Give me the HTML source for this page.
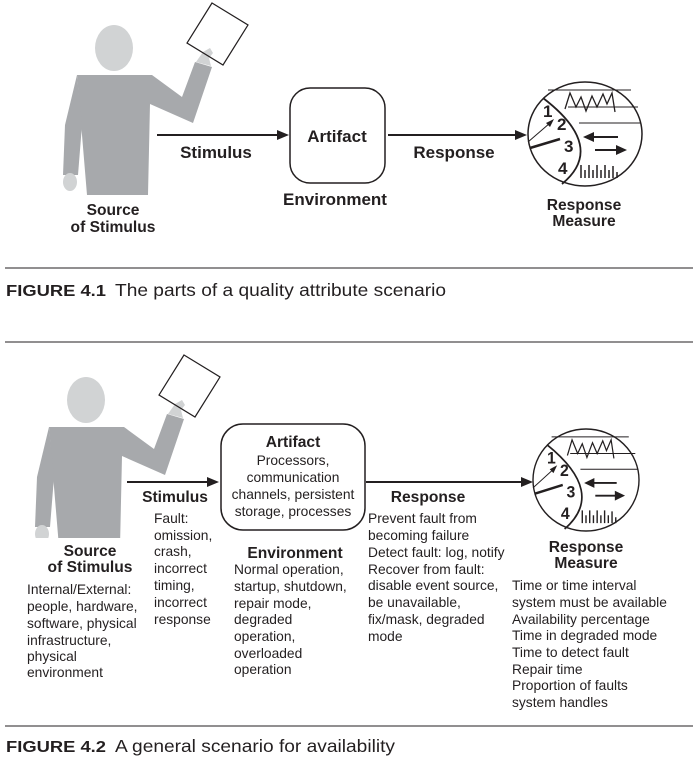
<!DOCTYPE html>
<html><head><meta charset="utf-8"><style>
html,body{margin:0;padding:0;background:#fff;}
svg{display:block;}
text{font-family:"Liberation Sans",Arial,sans-serif;fill:#231f20;}
.b{font-weight:bold;font-size:15.6px;}
.b1{font-weight:bold;font-size:17px;}
.t{font-size:13.8px;}
.c{text-anchor:middle;}
</style></head><body>
<svg width="699" height="762" viewBox="0 0 699 762" xmlns="http://www.w3.org/2000/svg">
<defs>
<g id="person">
  <polygon points="77,75 152,75 182,97 195,62 212,67 193,123 150,104 148,195 87,195" fill="#a7a9ac"/>
  <polygon points="77,75 65,125 63,175 78,175 82,125" fill="#a7a9ac"/>
  <ellipse cx="70" cy="182" rx="7" ry="9" fill="#d1d3d4"/>
  <ellipse cx="114" cy="48" rx="19" ry="23" fill="#d1d3d4"/>
  <path d="M196,62 L203,52 L210,48 L213,53 L209,58 L211,66 Z" fill="#d1d3d4"/>
  <polygon points="212,3 248,25 223,65 187,43" fill="none" stroke="#231f20" stroke-width="1.2"/>
</g>
<clipPath id="cp2"><rect x="0" y="0" width="400" height="186"/></clipPath>
<g id="meter">
  <ellipse cx="0" cy="0" rx="57" ry="52" fill="#fff" stroke="#231f20" stroke-width="1.5"/>
  <line x1="-37" y1="-44" x2="46" y2="-44" stroke="#231f20" stroke-width="1"/>
  <line x1="-17" y1="-27" x2="53" y2="-27" stroke="#231f20" stroke-width="1"/>
  <line x1="-6" y1="-11" x2="56" y2="-11" stroke="#231f20" stroke-width="1"/>
  <path d="M-42,-36 Q22,13 -23,50" fill="none" stroke="#231f20" stroke-width="1.8"/>
  <polyline points="-20,-25 -15,-41 -9,-27 -4,-37 1,-23 7,-38 12,-27 18,-40 22,-30 27,-41 30,-22" fill="none" stroke="#231f20" stroke-width="1.3"/>
  <text x="-42" y="-17" style="font-weight:bold;font-size:17px">1</text>
  <text x="-28" y="-4" style="font-weight:bold;font-size:17px">2</text>
  <text x="-21" y="18" style="font-weight:bold;font-size:17px">3</text>
  <text x="-27" y="40" style="font-weight:bold;font-size:17px">4</text>
  <line x1="-57" y1="8" x2="-35" y2="-11" stroke="#231f20" stroke-width="1"/>
  <polygon points="-31,-15 -39,-11 -35,-7" fill="#231f20"/>
  <line x1="-55" y1="14" x2="-25" y2="5" stroke="#231f20" stroke-width="2.5"/>
  <line x1="6" y1="3" x2="33" y2="3" stroke="#231f20" stroke-width="2"/>
  <polygon points="-2,3 9,-2 9,8" fill="#231f20"/>
  <line x1="10" y1="16" x2="35" y2="16" stroke="#231f20" stroke-width="2"/>
  <polygon points="42,16 31,11 31,21" fill="#231f20"/>
  <g stroke="#231f20" stroke-width="1.5">
    <line x1="-4" y1="44" x2="-4" y2="31"/><line x1="0" y1="44" x2="0" y2="36"/>
    <line x1="4" y1="44" x2="4" y2="31"/><line x1="8" y1="44" x2="8" y2="36"/>
    <line x1="12" y1="44" x2="12" y2="31"/><line x1="16" y1="44" x2="16" y2="36"/>
    <line x1="20" y1="44" x2="20" y2="31"/><line x1="24" y1="44" x2="24" y2="36"/>
    <line x1="28" y1="44" x2="28" y2="32"/><line x1="32" y1="44" x2="32" y2="38"/>
  </g>
</g>
</defs>

<!-- FIGURE 4.1 -->
<use href="#person"/>
<line x1="157" y1="135" x2="280" y2="135" stroke="#231f20" stroke-width="2"/>
<polygon points="289,135 277,130 277,140" fill="#231f20"/>
<text class="b1 c" x="216" y="158">Stimulus</text>
<rect x="290" y="88" width="95" height="95" rx="20" fill="#fff" stroke="#231f20" stroke-width="1.5"/>
<text class="b1 c" x="337" y="142">Artifact</text>
<text class="b1 c" x="335" y="205">Environment</text>
<line x1="388" y1="135" x2="517" y2="135" stroke="#231f20" stroke-width="2"/>
<polygon points="527,135 515,130 515,140" fill="#231f20"/>
<text class="b1 c" x="454" y="158">Response</text>
<use href="#meter" transform="translate(585,134)"/>
<text class="b c" x="113" y="215">Source</text>
<text class="b c" x="113" y="232">of Stimulus</text>
<text class="b c" x="584" y="210">Response</text>
<text class="b c" x="584" y="226">Measure</text>

<line x1="5" y1="268" x2="693" y2="268" stroke="#231f20" stroke-width="1"/>
<text x="6" y="296" textLength="100" lengthAdjust="spacingAndGlyphs" style="font-weight:bold;font-size:16px">FIGURE 4.1</text>
<text x="115" y="296" textLength="331" lengthAdjust="spacingAndGlyphs" style="font-size:17.5px">The parts of a quality attribute scenario</text>
<line x1="5" y1="342" x2="693" y2="342" stroke="#231f20" stroke-width="1"/>

<!-- FIGURE 4.2 -->
<g transform="translate(-28,352)"><use href="#person" clip-path="url(#cp2)"/></g>
<line x1="127" y1="482" x2="210" y2="482" stroke="#231f20" stroke-width="2"/>
<polygon points="219,482 207,477 207,487" fill="#231f20"/>
<rect x="221" y="424" width="144" height="106" rx="22" fill="#fff" stroke="#231f20" stroke-width="1.5"/>
<text class="b c" x="293" y="447">Artifact</text>
<text class="t c" x="293" y="465">Processors,</text>
<text class="t c" x="293" y="482">communication</text>
<text class="t c" x="293" y="499">channels, persistent</text>
<text class="t c" x="293" y="516">storage, processes</text>
<line x1="366" y1="482" x2="523" y2="482" stroke="#231f20" stroke-width="2"/>
<polygon points="533,482 521,477 521,487" fill="#231f20"/>
<use href="#meter" transform="translate(586,480) scale(0.93,0.98)"/>

<text class="b c" x="175" y="502">Stimulus</text>
<text class="t" x="154" y="523">Fault:</text>
<text class="t" x="154" y="540">omission,</text>
<text class="t" x="154" y="556">crash,</text>
<text class="t" x="154" y="573">incorrect</text>
<text class="t" x="154" y="590">timing,</text>
<text class="t" x="154" y="607">incorrect</text>
<text class="t" x="154" y="624">response</text>

<text class="b c" x="90" y="556">Source</text>
<text class="b c" x="90" y="572">of Stimulus</text>
<text class="t" x="27" y="594">Internal/External:</text>
<text class="t" x="27" y="611">people, hardware,</text>
<text class="t" x="27" y="628">software, physical</text>
<text class="t" x="27" y="645">infrastructure,</text>
<text class="t" x="27" y="661">physical</text>
<text class="t" x="27" y="677">environment</text>

<text class="b c" x="295" y="558">Environment</text>
<text class="t" x="234" y="574">Normal operation,</text>
<text class="t" x="234" y="591">startup, shutdown,</text>
<text class="t" x="234" y="608">repair mode,</text>
<text class="t" x="234" y="624">degraded</text>
<text class="t" x="234" y="641">operation,</text>
<text class="t" x="234" y="658">overloaded</text>
<text class="t" x="234" y="674">operation</text>

<text class="b c" x="428" y="502">Response</text>
<text class="t" x="368" y="523">Prevent fault from</text>
<text class="t" x="368" y="540">becoming failure</text>
<text class="t" x="368" y="557">Detect fault: log, notify</text>
<text class="t" x="368" y="574">Recover from fault:</text>
<text class="t" x="368" y="590">disable event source,</text>
<text class="t" x="368" y="607">be unavailable,</text>
<text class="t" x="368" y="624">fix/mask, degraded</text>
<text class="t" x="368" y="641">mode</text>

<text class="b c" x="586" y="552">Response</text>
<text class="b c" x="586" y="568">Measure</text>
<text class="t" x="512" y="590">Time or time interval</text>
<text class="t" x="512" y="607">system must be available</text>
<text class="t" x="512" y="624">Availability percentage</text>
<text class="t" x="512" y="640">Time in degraded mode</text>
<text class="t" x="512" y="657">Time to detect fault</text>
<text class="t" x="512" y="674">Repair time</text>
<text class="t" x="512" y="690">Proportion of faults</text>
<text class="t" x="512" y="707">system handles</text>

<line x1="5" y1="726" x2="693" y2="726" stroke="#231f20" stroke-width="1"/>
<text x="6" y="752" textLength="100" lengthAdjust="spacingAndGlyphs" style="font-weight:bold;font-size:16px">FIGURE 4.2</text>
<text x="115" y="752" textLength="280" lengthAdjust="spacingAndGlyphs" style="font-size:17.5px">A general scenario for availability</text>
</svg>
</body></html>
